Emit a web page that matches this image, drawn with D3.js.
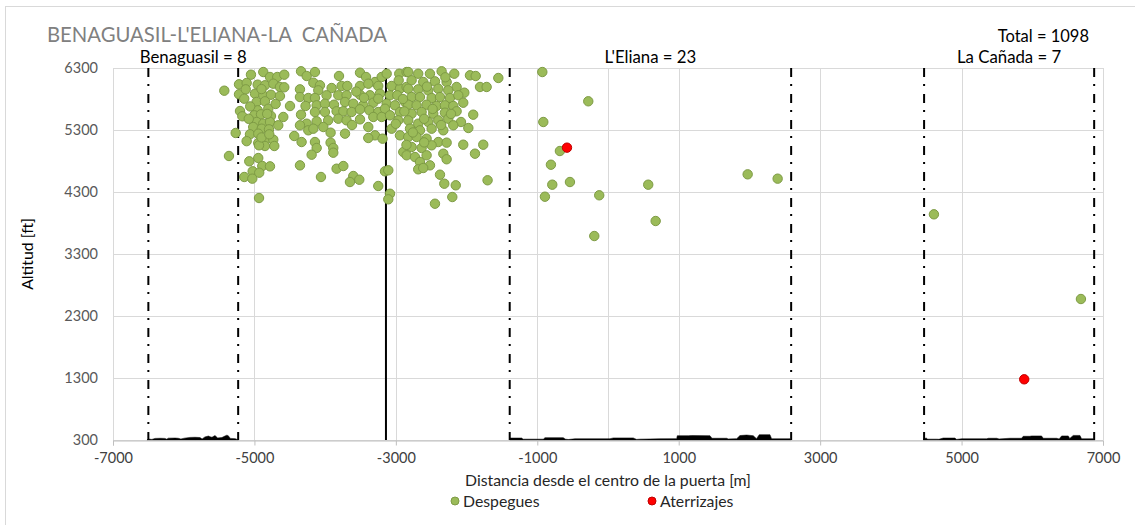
<!DOCTYPE html>
<meta charset="UTF-8">
<style>
    body { margin: 0; background: #fff; }
    text { font-family: Lato, "Open Sans", sans-serif; }
</style>
<svg width="1135" height="525"></svg>
<script src="https://d3js.org/d3.v7.min.js"></script>
<script>

// ---- data ----
var titulo = "BENAGUASIL-L'ELIANA-LA\u00a0\u00a0CAÑADA";
var total = "Total = 1098";
var zonas = ["Benaguasil = 8", "L'Eliana = 23", "La Cañada = 7"];
var limitesZonas = [[-6500, -5230], [-1390, 2590], [4470, 6875]];
var centroPuerta = -3140;

var xTicks = [-7000, -5000, -3000, -1000, 1000, 3000, 5000, 7000];
var yTicks = [300, 1300, 2300, 3300, 4300, 5300, 6300];

// despegues: [distancia m, altitud ft]
var despegues = [
    [-5426,5934],[-5049,6192],[-4875,6235],[-4780,6155],[-4677,6155],[-4578,6192],
    [-5218,6037],[-5110,6058],[-4954,6031],[-4851,6021],[-4733,6047],[-4639,5994],[-4578,5989],
    [-5218,5876],[-5123,5956],[-4992,5885],[-4875,5860],[-4766,5869],[-4639,5848],
    [-5144,5805],[-4969,5752],[-4851,5763],[-4497,5687],[-4954,5618],[-4804,5643],
    [-5204,5606],[-5171,5521],[-5002,5537],[-4907,5553],[-4766,5526],[-4592,5510],
    [-4969,5429],[-4875,5402],[-4780,5429],[-4663,5376],[-5017,5348],[-4897,5321],[-4794,5311],
    [-5265,5252],[-5063,5231],[-4946,5241],[-4437,5203],[-4946,5090],[-4851,5127],[-4733,5144],[-4333,5106],
    [-4851,5042],[-4719,5042],[-4935,5053],[-5360,4881],[-4946,4848],[-5073,4795],[-4889,4719],[-4780,4714],[-4356,4730],
    [-5025,4634],[-4932,4611],[-5144,4542],[-5030,4515],[-4935,4203],
    [-4341,6247],[-4261,6171],[-4356,5956],[-4356,5832],[-4238,5816],[-4277,5687],[-4341,5547],[-4261,5402],[-4356,5376],[-4238,5295],
    [-4144,6235],[-3804,6171],[-3507,6224],[-3422,6155],[-3295,6074],[-3201,6155],[-3130,6208],[-2952,6208],[-2848,6235],
    [-4167,6063],[-4073,6021],[-3908,5977],[-3767,6010],[-3687,6010],[-3507,6010],[-3390,6047],[-3249,6010],[-3060,6010],[-2942,5966],[-2848,5994],
    [-4097,5940],[-4144,5816],[-3980,5860],[-3814,5860],[-3697,5860],[-3507,5869],[-3366,5860],[-3225,5885],[-3083,5860],[-2980,5860],
    [-4120,5698],[-4003,5724],[-3875,5708],[-3719,5752],[-3602,5724],[-3461,5698],[-3319,5740],[-3249,5805],[-3130,5724],[-3013,5698],[-2871,5752],
    [-4144,5590],[-4003,5590],[-3838,5602],[-3743,5602],[-3626,5590],[-3507,5634],[-3375,5618],[-3249,5590],[-3154,5643],[-2942,5590],
    [-4120,5440],[-3957,5456],[-3814,5482],[-3697,5456],[-3507,5472],[-3319,5510],[-3201,5510],[-3083,5537],[-2966,5456],
    [-4167,5321],[-4026,5348],[-3923,5257],[-3719,5241],[-3390,5348],[-3295,5214],[-3188,5160],[-3060,5321],[-2942,5214],[-3390,5171],
    [-4144,5106],[-4120,5010],[-3923,5096],[-3885,5010],[-3885,4934],[-4191,4902],[-2895,4945],
    [-3838,4676],[-3743,4719],[-4059,4542],[-3602,4558],[-3517,4498],[-3649,4461],[-3154,4634],[-3107,4650],[-3249,4397],[-3083,4272],[-3107,4182],
    [-2825,6235],[-2684,6208],[-2518,6208],[-2353,6247],[-2174,6208],[-1952,6182],[-1871,6171],[-1551,6139],[-1810,5994],[-1716,5994],
    [-2777,6102],[-2613,6074],[-2447,6085],[-2282,6074],[-2141,5994],
    [-2825,5966],[-2684,5956],[-2542,5940],[-2400,5966],[-2259,5940],[-2032,5902],
    [-2777,5832],[-2659,5832],[-2494,5816],[-2376,5832],[-2235,5816],[-2117,5860],
    [-2825,5708],[-2707,5698],[-2565,5708],[-2424,5687],[-2306,5698],[-2188,5687],[-2047,5740],
    [-2777,5563],[-2636,5590],[-2471,5563],[-2306,5579],[-2141,5602],[-1906,5547],
    [-2825,5456],[-2684,5402],[-2542,5429],[-2400,5456],[-2259,5482],[-2079,5429],[-1975,5332],[-2188,5376],
    [-2800,5321],[-2659,5295],[-2494,5321],[-2329,5295],
    [-2825,5187],[-2707,5187],[-2565,5160],[-2400,5106],[-2282,5096],[-2047,5063],[-1764,5063],
    [-2777,5026],[-2636,5010],[-2494,5053],
    [-2848,4892],[-2730,4864],[-2565,4892],[-2329,4918],[-1881,4918],[-2282,4828],
    [-2659,4784],[-2518,4730],[-2684,4666],[-2613,4687],[-2376,4579],[-1703,4489],[-2315,4434],[-2153,4408],[-2202,4219],[-2447,4111],
    // extra marks seen inside the dense columns
    [-5060,5680],[-4900,5960],[-4820,5560],[-5080,5480],[-4700,5720],[-4900,5180],[-5110,5120],[-4790,5230],
    [-2960,6100],[-2900,5800],[-2880,5600],[-2760,5260],[-2600,5480],[-2480,5640],[-2360,5380],[-2220,5560],
    [-2560,6000],[-2300,6150],[-2600,5100],[-2850,5060],[-3000,5400],[-3560,5920],[-3620,5380],[-3450,5820],
    [-929,6235],[-279,5763],[-915,5429],[-680,4961],[-807,4740],[-788,4418],[-538,4461],[-892,4224],
    [-124,4247],[569,4418],[674,3832],[-194,3590],[1975,4585],[2399,4515],
    [4609,3940],[6688,2574]
];

var aterrizajes = [[-580,5015],[5886,1279]];

// perfil del terreno bajo cada zona [distancia m, altitud ft]
var terreno1 = [[-6520,300],[-6500,316],[-6450,310],[-6406,326],[-6330,328],[-6265,326],[-6240,314],[-6218,330],
    [-6120,332],[-6077,328],[-6040,316],[-5990,330],[-5912,342],[-5840,344],[-5770,340],[-5740,318],[-5700,350],
    [-5650,364],[-5629,354],[-5600,344],[-5558,372],[-5520,334],[-5460,340],[-5417,364],[-5390,378],[-5370,370],
    [-5340,326],[-5270,322],[-5228,300]];
var terreno2 = [[-1390,300],[-1386,332],[-1221,332],[-1200,314],[-915,314],[-891,338],[-633,338],[-600,314],[-562,308],
    [-467,320],[28,320],[75,334],[357,334],[405,310],[450,314],[735,320],[971,322],[980,370],[1135,370],[1183,372],
    [1442,370],[1470,328],[1678,328],[1700,318],[1820,322],[1866,372],[1960,380],[2054,370],[2100,322],[2139,386],
    [2290,386],[2314,320],[2573,320],[2590,300]];
var terreno3 = [[4458,300],[4470,328],[4506,328],[4520,314],[4647,314],[4680,312],[4741,332],[4906,332],[4930,310],
    [5001,320],[5354,320],[5380,328],[5496,328],[5530,318],[5684,328],[5849,328],[5872,360],[5966,360],[5990,366],
    [6131,366],[6155,328],[6344,328],[6380,318],[6415,366],[6509,366],[6530,326],[6579,374],[6674,374],[6697,320],
    [6862,320],[6880,300]];

// ---- chart ----
var svg = d3.select("svg"),
    margin = {top: 68, right: 32, bottom: 85, left: 113},
    width = +svg.attr("width") - margin.left - margin.right,
    height = +svg.attr("height") - margin.top - margin.bottom;

// chart area border
svg.append("rect")
    .attr("x", 5.5).attr("y", 6.5)
    .attr("width", 1140).attr("height", 530)
    .attr("fill", "none").attr("stroke", "#D9D9D9");

var g = svg.append("g").attr("transform", "translate(" + margin.left + "," + margin.top + ")");

var x = d3.scaleLinear().domain([-7000, 7000]).range([0, width]);
var y = d3.scaleLinear().domain([300, 6300]).range([height, 0]);

// gridlines
g.append("g")
    .selectAll("line")
    .data(yTicks)
    .enter().append("line")
    .attr("x1", 0).attr("x2", width)
    .attr("y1", function(d) { return Math.round(y(d)) + 0.5; })
    .attr("y2", function(d) { return Math.round(y(d)) + 0.5; })
    .attr("stroke", "#D9D9D9");

g.append("g")
    .selectAll("line")
    .data(xTicks.concat([0]))
    .enter().append("line")
    .attr("x1", function(d) { return Math.round(x(d)) + 0.5; })
    .attr("x2", function(d) { return Math.round(x(d)) + 0.5; })
    .attr("y1", 0).attr("y2", height)
    .attr("stroke", "#D9D9D9");

// terrain
var area = d3.area()
    .x(function(d) { return x(d[0]); })
    .y0(y(300))
    .y1(function(d) { return y(d[1]); });

[terreno1, terreno2, terreno3].forEach(function(t) {
    g.append("path")
        .datum(t)
        .attr("fill", "#000")
        .attr("stroke", "#000")
        .attr("stroke-width", 0.5)
        .attr("d", area);
});

// x axis
var xAxis = g.append("g")
    .attr("transform", "translate(0," + (Math.round(height) + 0.5) + ")")
    .call(d3.axisBottom(x).tickValues(xTicks).tickSize(5).tickFormat(d3.format("d")));
xAxis.select(".domain").attr("stroke", "#BFBFBF");
xAxis.selectAll(".tick line").attr("stroke", "#BFBFBF");
xAxis.selectAll(".tick text")
    .attr("y", 12)
    .attr("dy", "0.71em")
    .attr("fill", "#404040")
    .style("font-size", "14.5px")
    .style("font-family", "Lato")
    .text(function(d) { return d < 0 ? "-" + Math.abs(d) : d; });

// y axis labels
var yAxis = g.append("g")
    .call(d3.axisLeft(y).tickValues(yTicks).tickSize(0).tickPadding(15).tickFormat(d3.format("d")));
yAxis.select(".domain").remove();
yAxis.selectAll(".tick text")
    .attr("fill", "#595959")
    .style("font-size", "14.5px")
    .style("font-family", "Lato");

// zone limits (dash-dot) and gate centre line
limitesZonas.forEach(function(z) {
    z.forEach(function(v) {
        g.append("line")
            .attr("x1", x(v)).attr("x2", x(v))
            .attr("y1", 0).attr("y2", height)
            .attr("stroke", "#000")
            .attr("stroke-width", 2)
            .attr("stroke-dasharray", "9,7,2,8");
    });
});

g.append("line")
    .attr("x1", x(centroPuerta)).attr("x2", x(centroPuerta))
    .attr("y1", 0).attr("y2", height)
    .attr("stroke", "#000")
    .attr("stroke-width", 2);

// points
g.append("g")
    .selectAll("circle")
    .data(despegues)
    .enter().append("circle")
    .attr("cx", function(d) { return x(d[0]); })
    .attr("cy", function(d) { return y(d[1]); })
    .attr("r", 4.7)
    .attr("fill", "#9BBB59")
    .attr("stroke", "#7E9B45")
    .attr("stroke-width", 1);

g.append("g")
    .selectAll("circle")
    .data(aterrizajes)
    .enter().append("circle")
    .attr("cx", function(d) { return x(d[0]); })
    .attr("cy", function(d) { return y(d[1]); })
    .attr("r", 4.7)
    .attr("fill", "#FF0000")
    .attr("stroke", "#C00000")
    .attr("stroke-width", 1);

// texts
svg.append("text")
    .attr("x", 47).attr("y", 42)
    .attr("fill", "#808080")
    .style("font-size", "20.3px")
    .text(titulo);

svg.append("text")
    .attr("x", 1089).attr("y", 42)
    .attr("text-anchor", "end")
    .attr("fill", "#000")
    .style("font-size", "16.5px")
    .text(total);

zonas.forEach(function(z, i) {
    var c = (limitesZonas[i][0] + limitesZonas[i][1]) / 2;
    svg.append("text")
        .attr("x", margin.left + x(c)).attr("y", 63)
        .attr("text-anchor", "middle")
        .attr("fill", "#000")
        .style("font-size", "16.8px")
        .text(z);
});

svg.append("text")
    .attr("transform", "translate(33," + (margin.top + height / 2) + ") rotate(-90)")
    .attr("text-anchor", "middle")
    .attr("fill", "#000")
    .style("font-size", "15.8px")
    .text("Altitud [ft]");

svg.append("text")
    .attr("x", margin.left + width / 2).attr("y", 486)
    .attr("text-anchor", "middle")
    .attr("fill", "#262626")
    .style("font-size", "15.8px")
    .text("Distancia desde el centro de la puerta [m]");

// legend
var legend = [
    {name: "Despegues", fill: "#9BBB59", stroke: "#7E9B45", cx: 455},
    {name: "Aterrizajes", fill: "#FF0000", stroke: "#C00000", cx: 652}
];
legend.forEach(function(l) {
    svg.append("circle")
        .attr("cx", l.cx).attr("cy", 501)
        .attr("r", 4)
        .attr("fill", l.fill)
        .attr("stroke", l.stroke);
    svg.append("text")
        .attr("x", l.cx + 8).attr("y", 506.5)
        .attr("fill", "#262626")
        .style("font-size", "15.8px")
        .text(l.name);
});

</script>
